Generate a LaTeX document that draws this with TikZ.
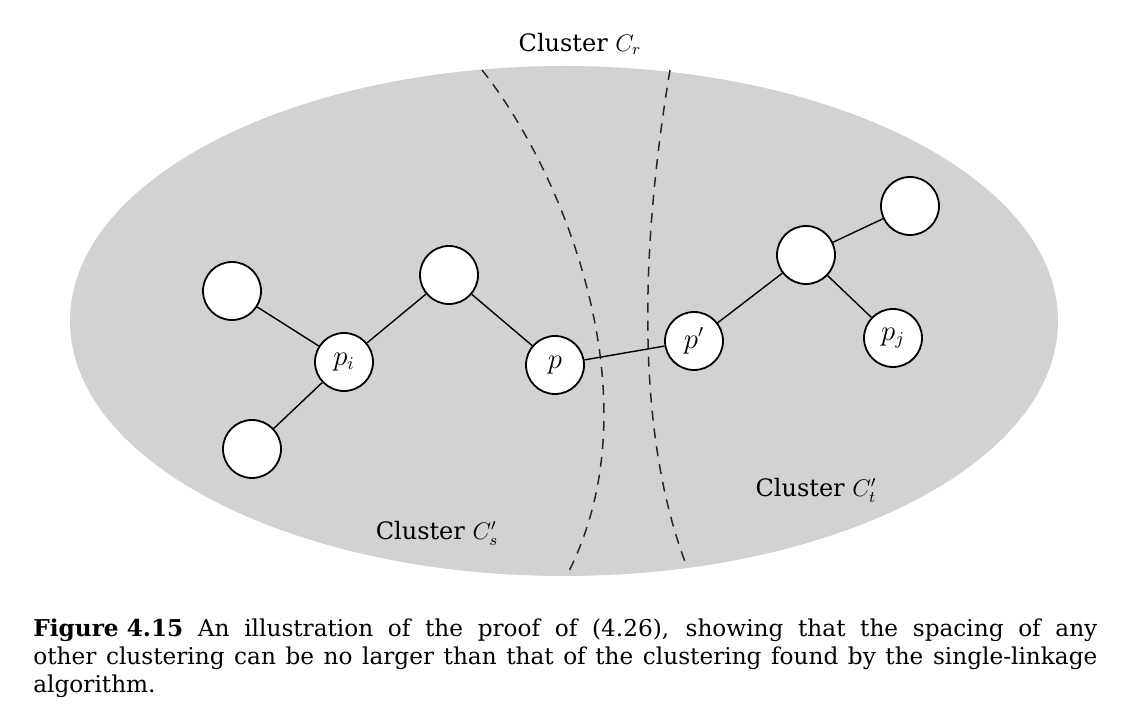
\documentclass[tikz,border=0pt]{standalone}
\usepackage{fontspec}
\setmainfont{DejaVu Serif}
\definecolor{clustergray}{RGB}{209,210,212}
\begin{document}
\begin{tikzpicture}[x=0.5pt,y=-0.5pt,
  point/.style={draw, circle, fill=white, line width=0.9pt, minimum size=29pt, inner sep=0pt, font=\fontsize{13.5}{14}\selectfont},
  link/.style={draw, line width=0.7pt},
  cutline/.style={draw, dash pattern=on 5pt off 4pt, line width=0.75pt, black!85},
  clusterlabel/.style={font=\fontsize{12}{12}\selectfont},
  captext/.style={anchor=base west, inner sep=0pt, font=\fontsize{11.6}{12}\selectfont}]
\useasboundingbox (0,0) rectangle (1126,726);
\fill[clustergray] (564,321) ellipse [x radius=247pt, y radius=127.5pt];

\path[cutline] (482,70) .. controls (562,170) and (658,400) .. (567,575);
\path[cutline] (670,70) .. controls (645,220) and (630,420) .. (687,567);

\node[point] (l1) at (232,291) {};
\node[point] (pi) at (344,362) {$p_i$};
\node[point] (l2) at (252,449) {};
\node[point] (m1) at (449,275) {};
\node[point] (p) at (555,365) {$p$};
\node[point] (pp) at (694,341) {$p'$};
\node[point] (r1) at (806,255) {};
\node[point] (r2) at (910,206) {};
\node[point] (pj) at (893,338) {$p_j$};

\path[link] (l1) -- (pi);
\path[link] (l2) -- (pi);
\path[link] (pi) -- (m1);
\path[link] (m1) -- (p);
\path[link] (p) -- (pp);
\path[link] (pp) -- (r1);
\path[link] (r1) -- (r2);
\path[link] (r1) -- (pj);

\node[clusterlabel] (cr) at (580,44) {Cluster $C_r$};
\node[clusterlabel] (cs) at (437,533) {Cluster $C'_s$};
\node[clusterlabel] (ct) at (816,490) {Cluster $C'_t$};

\node[captext] (cap1) at (33,637) {\makebox[532pt][s]{\textbf{\mbox{Figure 4.15}}\ An illustration of the proof of (4.26), showing that the spacing of any}};
\node[captext] (cap2) at (33,665) {\makebox[532pt][s]{other clustering can be no larger than that of the clustering found by the single-linkage}};
\node[captext] (cap3) at (33,693) {algorithm.};
\end{tikzpicture}
\end{document}
